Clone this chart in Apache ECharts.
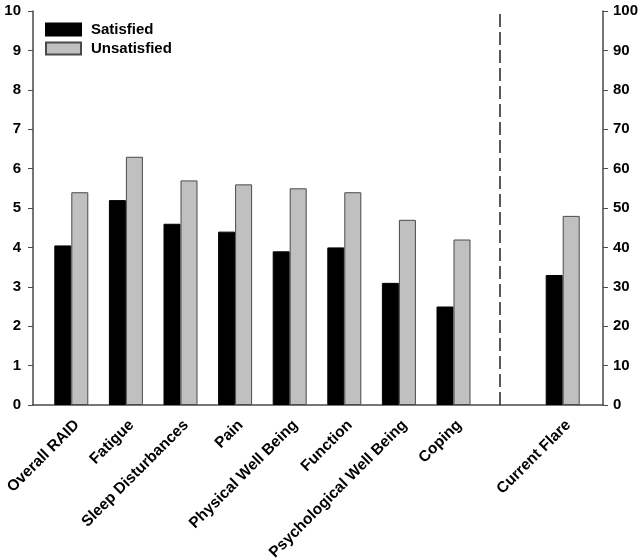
<!DOCTYPE html>
<html>
<head>
<meta charset="utf-8">
<script src="https://cdn.jsdelivr.net/npm/echarts@6/dist/echarts.min.js"></script>
<style>html,body{margin:0;padding:0;background:#fff;}#c{width:641px;height:560px;}</style>
</head>
<body>
<div id="c"></div>
<script>
var categories = ['Overall RAID','Fatigue','Sleep Disturbances','Pain','Physical Well Being','Function','Psychological Well Being','Coping',' ','Current Flare'];
var satisfied = [4.05, 5.2, 4.6, 4.4, 3.9, 4.0, 3.1, 2.5];
var unsatisfied = [5.4, 6.3, 5.7, 5.6, 5.5, 5.4, 4.7, 4.2];
var flareSatisfied = 33;
var flareUnsatisfied = 48;
var leftTicks = [0,1,2,3,4,5,6,7,8,9,10];
var rightTicks = [0,10,20,30,40,50,60,70,80,90,100];

function padRaid(arr){ var out = arr.slice(); while(out.length < categories.length) out.push('-'); return out; }
function flareOnly(v){ return categories.map(function(c){ return c === 'Current Flare' ? v : '-'; }); }

var ff = 'Liberation Sans, Arial, sans-serif';
var axisColor = '#4a4a4a';
var chart = echarts.init(document.getElementById('c'));
chart.setOption({
  animation:false,
  legend:{
    left:45, top:22, padding:0, orient:'vertical', itemWidth:35, itemHeight:12, itemGap:4,
    icon:'rect', data:['Satisfied','Unsatisfied'],
    textStyle:{fontFamily:ff, fontWeight:'bold', fontSize:15, lineHeight:14, color:'#000', padding:[0,0,0,5]}
  },
  grid:[
    {left:33, right:38, top:11, bottom:155, outerBoundsMode:'none', containLabel:false},
    {left:44, right:51, top:11, bottom:155, outerBoundsMode:'none', containLabel:false},
    {left:44, right:51, top:11, bottom:155, outerBoundsMode:'none', containLabel:false}
  ],
  xAxis:[
    {type:'value', gridIndex:0, min:0, max:1, axisLine:{show:true, lineStyle:{color:axisColor, width:1.5}}, axisTick:{show:false}, axisLabel:{show:false}, splitLine:{show:false}},
    {type:'category', gridIndex:1, data:categories, axisLine:{show:false}, axisTick:{show:false},
      axisLabel:{rotate:45, interval:0, margin:12, align:'right', verticalAlign:'top', fontFamily:ff, fontWeight:'bold', fontSize:15.5, color:'#000'}},
    {type:'category', gridIndex:2, data:categories, show:false}
  ],
  yAxis:[
    {type:'value', gridIndex:0, position:'left', min:0, max:10, interval:1,
      axisLine:{show:true, lineStyle:{color:axisColor, width:1.5}}, axisTick:{show:true, length:5, lineStyle:{color:axisColor}},
      axisLabel:{margin:12, fontFamily:ff, fontWeight:'bold', fontSize:15, color:'#000', formatter:function(v){return leftTicks.indexOf(v)>=0?String(v):'';}},
      splitLine:{show:false}},
    {type:'value', gridIndex:0, position:'right', min:0, max:100, interval:10,
      axisLine:{show:true, lineStyle:{color:axisColor, width:1.5}}, axisTick:{show:true, length:5, lineStyle:{color:axisColor}},
      axisLabel:{margin:10, fontFamily:ff, fontWeight:'bold', fontSize:15, color:'#000', formatter:function(v){return rightTicks.indexOf(v)>=0?String(v):'';}},
      splitLine:{show:false}},
    {type:'value', gridIndex:1, min:0, max:10, show:false},
    {type:'value', gridIndex:2, min:0, max:100, show:false}
  ],
  series:[
    {name:'Satisfied', type:'bar', xAxisIndex:1, yAxisIndex:2, data:padRaid(satisfied), barWidth:17, barGap:'0%',
      itemStyle:{color:'#000', borderColor:'#000', borderWidth:1},
      markLine:{silent:true, symbol:'none', label:{show:false},
        lineStyle:{color:'#222', type:[13,5], width:1.5},
        data:[{xAxis:categories.indexOf(' ')}]}},
    {name:'Unsatisfied', type:'bar', xAxisIndex:1, yAxisIndex:2, data:padRaid(unsatisfied), barWidth:17, barGap:'0%',
      itemStyle:{color:'#c0c0c0', borderColor:'#4a4a4a', borderWidth:1}},
    {name:'Satisfied', type:'bar', xAxisIndex:2, yAxisIndex:3, data:flareOnly(flareSatisfied), barWidth:17, barGap:'0%',
      itemStyle:{color:'#000', borderColor:'#000', borderWidth:1}},
    {name:'Unsatisfied', type:'bar', xAxisIndex:2, yAxisIndex:3, data:flareOnly(flareUnsatisfied), barWidth:17, barGap:'0%',
      itemStyle:{color:'#c0c0c0', borderColor:'#4a4a4a', borderWidth:1}}
  ]
});
</script>
</body>
</html>
